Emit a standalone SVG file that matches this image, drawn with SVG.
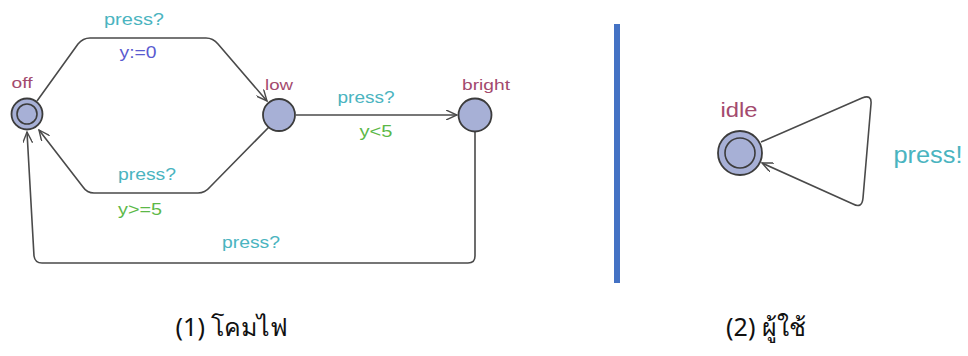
<svg xmlns="http://www.w3.org/2000/svg" width="968" height="356" viewBox="0 0 968 356">
  <style>
    .loc { fill: #a7b0d6; stroke: #3c3c3c; stroke-width: 1.8; }
    .inner { fill: none; stroke: #3c3c3c; stroke-width: 1.6; }
    .edge { fill: none; stroke: #4a4a4a; stroke-width: 1.6; stroke-linejoin: round; marker-end: url(#arr); }
    text { font-family: "Liberation Sans", Arial, sans-serif; text-anchor: middle; }
    .name { font-size: 15px; fill: #a34a6e; }
    .sync { font-size: 16px; fill: #4ab4c0; }
    .guard { font-size: 16px; fill: #5cb848; }
    .assign { font-size: 16px; fill: #5a5ad0; }
    .caption { font-family: "Noto Sans", "DejaVu Sans", sans-serif; font-size: 25px; fill: #111; }
  </style>
  <defs>
    <marker id="arr" viewBox="0 0 12 10" refX="11" refY="5" markerWidth="12" markerHeight="10" markerUnits="userSpaceOnUse" orient="auto">
      <path d="M0,0 L11,5 L0,10" fill="none" stroke="#4a4a4a" stroke-width="1.4"/>
    </marker>
  </defs>

  <!-- connectors -->
  <g id="edges">
    <path class="edge" d="M37,101 L78,44 Q83,38 90,38 L206,38 Q213,38 218,44 L267,101"/>
    <path class="edge" d="M296,115 L457,115"/>
    <path class="edge" d="M269,127 L210,187 Q205,193 198,193 L94,193 Q87,193 83,187 L39,130"/>
    <path class="edge" d="M475,132 L475,256 Q475,263 468,263 L42,263 Q35,263 34,256 L27,132"/>
    <path class="edge" d="M761,142 L862,98 Q872,94 871,104 L863,198 Q862,209 853,204 L762,163"/>
  </g>

  <!-- edge labels -->
  <g id="labels">
    <text class="sync" x="134" y="25" textLength="60" lengthAdjust="spacingAndGlyphs">press?</text>
    <text class="assign" x="138" y="58" textLength="37" lengthAdjust="spacingAndGlyphs">y:=0</text>
    <text class="sync" x="366" y="103" textLength="57" lengthAdjust="spacingAndGlyphs">press?</text>
    <text class="guard" x="376" y="137" textLength="33" lengthAdjust="spacingAndGlyphs">y&lt;5</text>
    <text class="sync" x="147" y="180" textLength="58" lengthAdjust="spacingAndGlyphs">press?</text>
    <text class="guard" x="140" y="215" textLength="44" lengthAdjust="spacingAndGlyphs">y&gt;=5</text>
    <text class="sync" x="251" y="248" textLength="58" lengthAdjust="spacingAndGlyphs">press?</text>
    <text class="sync" x="928" y="163" style="font-size:23px" textLength="69" lengthAdjust="spacingAndGlyphs">press!</text>
  </g>

  <g id="off">
    <circle class="loc" cx="27" cy="114" r="15.5"/>
    <circle class="inner" cx="27" cy="114" r="10"/>
    <text class="name" x="22" y="88" textLength="21" lengthAdjust="spacingAndGlyphs">off</text>
  </g>
  <g id="low">
    <circle class="loc" cx="279" cy="115" r="16"/>
    <text class="name" x="279" y="90" textLength="28" lengthAdjust="spacingAndGlyphs">low</text>
  </g>
  <g id="bright">
    <circle class="loc" cx="475" cy="115" r="16.5"/>
    <text class="name" x="486" y="90" textLength="48" lengthAdjust="spacingAndGlyphs">bright</text>
  </g>
  <g id="idle">
    <circle class="loc" cx="740" cy="153" r="22"/>
    <circle class="inner" cx="740" cy="153" r="15"/>
    <text class="name" x="739" y="117" style="font-size:21px" textLength="37" lengthAdjust="spacingAndGlyphs">idle</text>
  </g>

  <!-- divider -->
  <rect x="614" y="24" width="6" height="259" fill="#4472c4"/>

  <!-- captions -->
  <text class="caption" x="232" y="336">(1) โคมไฟ</text>
  <text class="caption" x="766" y="336">(2) ผู้ใช้</text>
</svg>
